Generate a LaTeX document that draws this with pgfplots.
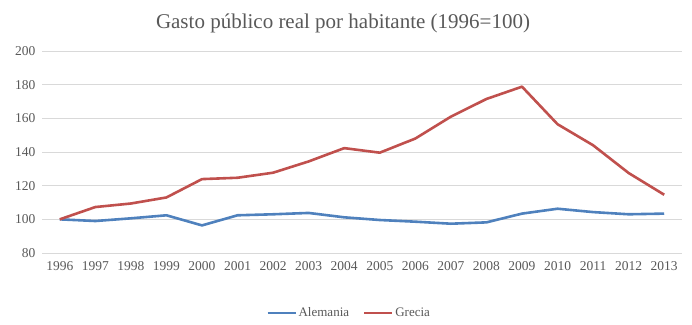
\documentclass[border=0pt]{standalone}
\usepackage{pgfplots}
\pgfplotsset{compat=1.18}
\usepackage{fontspec}
\setmainfont{Liberation Serif}
\definecolor{txtgray}{HTML}{595959}
\definecolor{gridgray}{HTML}{D9D9D9}
\definecolor{xlblue}{HTML}{4F81BD}
\definecolor{xlred}{HTML}{C0504D}
\begin{document}
\begin{tikzpicture}
\path[use as bounding box] (-42pt,-71pt) rectangle (650pt,253pt);
\begin{axis}[
  at={(0pt,0pt)}, anchor=origin, clip=false,
  scale only axis, width=640pt, height=202pt,
  xmin=1995.5, xmax=2013.5, ymin=80, ymax=200,
  xtick={1996,...,2013}, ytick={80,100,...,200},
  /pgf/number format/1000 sep={},
  /pgf/number format/assume math mode=true,
  ymajorgrids, grid style={gridgray, line width=0.8pt},
  axis line style={draw=none}, tick style={draw=none},
  tick label style={font=\fontsize{13.5}{15}\selectfont, text=txtgray},
  xticklabel style={yshift=-5pt},
  yticklabel style={xshift=-3pt},
  legend style={at={(axis description cs:0.48,-0.255)}, anchor=north, draw=none,
    font=\fontsize{13}{15}\selectfont, text=txtgray, legend columns=2,
    nodes={text height=1.6ex, text depth=0.3ex, inner sep=2pt},
    /tikz/every even column/.append style={column sep=12pt}},
  legend image code/.code={\draw[#1, line width=2.2pt] (0pt,0pt) -- (28pt,0pt);},
  every axis plot/.append style={line width=2.6pt, line join=round},
]
\addplot[xlblue] coordinates {
(1996,100) (1997,99.0) (1998,100.6) (1999,102.4) (2000,96.4) (2001,102.4)
(2002,103.0) (2003,103.8) (2004,101.2) (2005,99.6) (2006,98.6) (2007,97.4)
(2008,98.2) (2009,103.4) (2010,106.3) (2011,104.3) (2012,103.0) (2013,103.4)};
\addlegendentry{Alemania}
\addplot[xlred] coordinates {
(1996,100) (1997,107.3) (1998,109.4) (1999,113.0) (2000,123.9) (2001,124.7)
(2002,127.7) (2003,134.4) (2004,142.3) (2005,139.6) (2006,148.0) (2007,161.0)
(2008,171.5) (2009,178.8) (2010,156.5) (2011,144.0) (2012,127.5) (2013,114.6)};
\addlegendentry{Grecia}
\end{axis}
\node[text=txtgray, font=\fontsize{21}{25}\selectfont] at (301pt,230pt) {Gasto público real por habitante (1996=100)};
\end{tikzpicture}
\end{document}
